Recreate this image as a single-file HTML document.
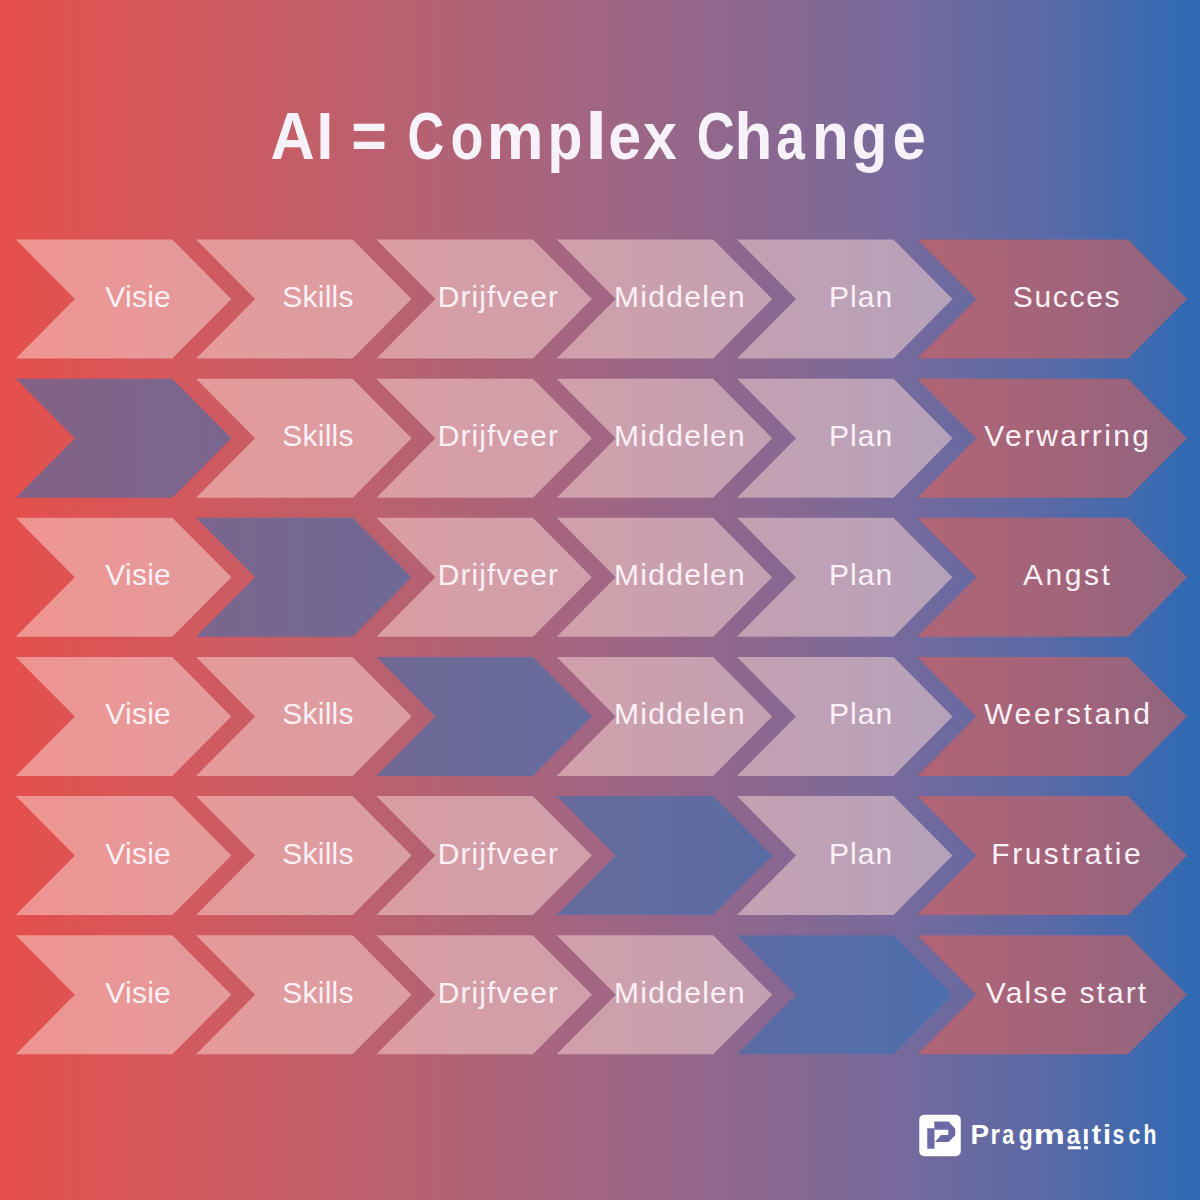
<!DOCTYPE html>
<html><head><meta charset="utf-8">
<style>
html,body{margin:0;padding:0;width:1200px;height:1200px;overflow:hidden;}
body{background:linear-gradient(90deg,#e54f4c 0%,#d5585c 13.3%,#c45e67 25%,#a16683 50%,#8d678f 62.5%,#766a9c 75%,#5a69a6 87.5%,#2e6ab4 100%);}
svg{position:absolute;left:0;top:0;}
.lab{font-family:"Liberation Sans",sans-serif;font-size:30px;fill:#fbf0f6;}
.title{font-family:"Liberation Sans",sans-serif;font-weight:bold;font-size:67px;fill:#f7f2f9;}
.brand{font-family:"Liberation Sans",sans-serif;font-weight:bold;font-size:27.5px;fill:#ffffff;}
</style></head>
<body>
<svg width="1200" height="1200" viewBox="0 0 1200 1200">
<g class="title">
<text x="270.47" y="158.6" textLength="44.2" lengthAdjust="spacingAndGlyphs">A</text>
<text x="316.5" y="158.6" textLength="16.76" lengthAdjust="spacingAndGlyphs">I</text>
<text x="351.17" y="158.6" textLength="35.57" lengthAdjust="spacingAndGlyphs">=</text>
<text x="407.43" y="158.6" textLength="36.69" lengthAdjust="spacingAndGlyphs">C</text>
<text x="450.39" y="158.6" textLength="32.98" lengthAdjust="spacingAndGlyphs">o</text>
<text x="486.78" y="158.6" textLength="56.83" lengthAdjust="spacingAndGlyphs">m</text>
<text x="547.59" y="158.6" textLength="34.92" lengthAdjust="spacingAndGlyphs">p</text>
<text x="585" y="158.6" textLength="22.35" lengthAdjust="spacingAndGlyphs">l</text>
<text x="608.23" y="158.6" textLength="32.97" lengthAdjust="spacingAndGlyphs">e</text>
<text x="643.09" y="158.6" textLength="33.85" lengthAdjust="spacingAndGlyphs">x</text>
<text x="696.85" y="158.6" textLength="37.92" lengthAdjust="spacingAndGlyphs">C</text>
<text x="734.38" y="158.6" textLength="37.87" lengthAdjust="spacingAndGlyphs">h</text>
<text x="776.27" y="158.6" textLength="28.57" lengthAdjust="spacingAndGlyphs">a</text>
<text x="812.01" y="158.6" textLength="36.72" lengthAdjust="spacingAndGlyphs">n</text>
<text x="851.79" y="158.6" textLength="35.64" lengthAdjust="spacingAndGlyphs">g</text>
<text x="892.41" y="158.6" textLength="33.43" lengthAdjust="spacingAndGlyphs">e</text>
</g>
<g>
<polygon points="15.8,239.5 172.3,239.5 231.3,299 172.3,358.5 15.8,358.5 74.8,299" fill="rgba(250,216,212,0.51)"/>
<polygon points="196.1,239.5 352.6,239.5 411.6,299 352.6,358.5 196.1,358.5 255.1,299" fill="rgba(250,216,212,0.51)"/>
<polygon points="376.4,239.5 532.9,239.5 591.9,299 532.9,358.5 376.4,358.5 435.4,299" fill="rgba(250,216,212,0.51)"/>
<polygon points="556.7,239.5 713.2,239.5 772.2,299 713.2,358.5 556.7,358.5 615.7,299" fill="rgba(250,216,212,0.51)"/>
<polygon points="737,239.5 893.5,239.5 952.5,299 893.5,358.5 737,358.5 796,299" fill="rgba(250,216,212,0.51)"/>
<polygon points="917.3,239.5 1128,239.5 1187,299 1128,358.5 917.3,358.5 976.3,299" fill="rgba(238,96,78,0.5)"/>
<polygon points="15.8,378.65 172.3,378.65 231.3,438.15 172.3,497.65 15.8,497.65 74.8,438.15" fill="rgba(50,113,181,0.54)"/>
<polygon points="196.1,378.65 352.6,378.65 411.6,438.15 352.6,497.65 196.1,497.65 255.1,438.15" fill="rgba(250,216,212,0.51)"/>
<polygon points="376.4,378.65 532.9,378.65 591.9,438.15 532.9,497.65 376.4,497.65 435.4,438.15" fill="rgba(250,216,212,0.51)"/>
<polygon points="556.7,378.65 713.2,378.65 772.2,438.15 713.2,497.65 556.7,497.65 615.7,438.15" fill="rgba(250,216,212,0.51)"/>
<polygon points="737,378.65 893.5,378.65 952.5,438.15 893.5,497.65 737,497.65 796,438.15" fill="rgba(250,216,212,0.51)"/>
<polygon points="917.3,378.65 1128,378.65 1187,438.15 1128,497.65 917.3,497.65 976.3,438.15" fill="rgba(238,96,78,0.5)"/>
<polygon points="15.8,517.8 172.3,517.8 231.3,577.3 172.3,636.8 15.8,636.8 74.8,577.3" fill="rgba(250,216,212,0.51)"/>
<polygon points="196.1,517.8 352.6,517.8 411.6,577.3 352.6,636.8 196.1,636.8 255.1,577.3" fill="rgba(50,113,181,0.54)"/>
<polygon points="376.4,517.8 532.9,517.8 591.9,577.3 532.9,636.8 376.4,636.8 435.4,577.3" fill="rgba(250,216,212,0.51)"/>
<polygon points="556.7,517.8 713.2,517.8 772.2,577.3 713.2,636.8 556.7,636.8 615.7,577.3" fill="rgba(250,216,212,0.51)"/>
<polygon points="737,517.8 893.5,517.8 952.5,577.3 893.5,636.8 737,636.8 796,577.3" fill="rgba(250,216,212,0.51)"/>
<polygon points="917.3,517.8 1128,517.8 1187,577.3 1128,636.8 917.3,636.8 976.3,577.3" fill="rgba(238,96,78,0.5)"/>
<polygon points="15.8,656.95 172.3,656.95 231.3,716.45 172.3,775.95 15.8,775.95 74.8,716.45" fill="rgba(250,216,212,0.51)"/>
<polygon points="196.1,656.95 352.6,656.95 411.6,716.45 352.6,775.95 196.1,775.95 255.1,716.45" fill="rgba(250,216,212,0.51)"/>
<polygon points="376.4,656.95 532.9,656.95 591.9,716.45 532.9,775.95 376.4,775.95 435.4,716.45" fill="rgba(50,113,181,0.54)"/>
<polygon points="556.7,656.95 713.2,656.95 772.2,716.45 713.2,775.95 556.7,775.95 615.7,716.45" fill="rgba(250,216,212,0.51)"/>
<polygon points="737,656.95 893.5,656.95 952.5,716.45 893.5,775.95 737,775.95 796,716.45" fill="rgba(250,216,212,0.51)"/>
<polygon points="917.3,656.95 1128,656.95 1187,716.45 1128,775.95 917.3,775.95 976.3,716.45" fill="rgba(238,96,78,0.5)"/>
<polygon points="15.8,796.1 172.3,796.1 231.3,855.6 172.3,915.1 15.8,915.1 74.8,855.6" fill="rgba(250,216,212,0.51)"/>
<polygon points="196.1,796.1 352.6,796.1 411.6,855.6 352.6,915.1 196.1,915.1 255.1,855.6" fill="rgba(250,216,212,0.51)"/>
<polygon points="376.4,796.1 532.9,796.1 591.9,855.6 532.9,915.1 376.4,915.1 435.4,855.6" fill="rgba(250,216,212,0.51)"/>
<polygon points="556.7,796.1 713.2,796.1 772.2,855.6 713.2,915.1 556.7,915.1 615.7,855.6" fill="rgba(50,113,181,0.54)"/>
<polygon points="737,796.1 893.5,796.1 952.5,855.6 893.5,915.1 737,915.1 796,855.6" fill="rgba(250,216,212,0.51)"/>
<polygon points="917.3,796.1 1128,796.1 1187,855.6 1128,915.1 917.3,915.1 976.3,855.6" fill="rgba(238,96,78,0.5)"/>
<polygon points="15.8,935.25 172.3,935.25 231.3,994.75 172.3,1054.25 15.8,1054.25 74.8,994.75" fill="rgba(250,216,212,0.51)"/>
<polygon points="196.1,935.25 352.6,935.25 411.6,994.75 352.6,1054.25 196.1,1054.25 255.1,994.75" fill="rgba(250,216,212,0.51)"/>
<polygon points="376.4,935.25 532.9,935.25 591.9,994.75 532.9,1054.25 376.4,1054.25 435.4,994.75" fill="rgba(250,216,212,0.51)"/>
<polygon points="556.7,935.25 713.2,935.25 772.2,994.75 713.2,1054.25 556.7,1054.25 615.7,994.75" fill="rgba(250,216,212,0.51)"/>
<polygon points="737,935.25 893.5,935.25 952.5,994.75 893.5,1054.25 737,1054.25 796,994.75" fill="rgba(50,113,181,0.54)"/>
<polygon points="917.3,935.25 1128,935.25 1187,994.75 1128,1054.25 917.3,1054.25 976.3,994.75" fill="rgba(238,96,78,0.5)"/>
</g>
<g class="lab">
<text x="105.2" y="306.9" textLength="65.58" lengthAdjust="spacing">Visie</text>
<text x="282.2" y="306.9" textLength="71.32" lengthAdjust="spacing">Skills</text>
<text x="437.8" y="306.9" textLength="120.09" lengthAdjust="spacing">Drijfveer</text>
<text x="614" y="306.9" textLength="130.75" lengthAdjust="spacing">Middelen</text>
<text x="829" y="306.9" textLength="63.25" lengthAdjust="spacing">Plan</text>
<text x="1012.7" y="306.9" textLength="106.89" lengthAdjust="spacing">Succes</text>
<text x="282.2" y="446.05" textLength="71.32" lengthAdjust="spacing">Skills</text>
<text x="437.8" y="446.05" textLength="120.09" lengthAdjust="spacing">Drijfveer</text>
<text x="614" y="446.05" textLength="130.75" lengthAdjust="spacing">Middelen</text>
<text x="829" y="446.05" textLength="63.25" lengthAdjust="spacing">Plan</text>
<text x="984.2" y="446.05" textLength="164.71" lengthAdjust="spacing">Verwarring</text>
<text x="105.2" y="585.2" textLength="65.58" lengthAdjust="spacing">Visie</text>
<text x="437.8" y="585.2" textLength="120.09" lengthAdjust="spacing">Drijfveer</text>
<text x="614" y="585.2" textLength="130.75" lengthAdjust="spacing">Middelen</text>
<text x="829" y="585.2" textLength="63.25" lengthAdjust="spacing">Plan</text>
<text x="1023" y="585.2" textLength="86.72" lengthAdjust="spacing">Angst</text>
<text x="105.2" y="724.35" textLength="65.58" lengthAdjust="spacing">Visie</text>
<text x="282.2" y="724.35" textLength="71.32" lengthAdjust="spacing">Skills</text>
<text x="614" y="724.35" textLength="130.75" lengthAdjust="spacing">Middelen</text>
<text x="829" y="724.35" textLength="63.25" lengthAdjust="spacing">Plan</text>
<text x="984.2" y="724.35" textLength="165.63" lengthAdjust="spacing">Weerstand</text>
<text x="105.2" y="863.5" textLength="65.58" lengthAdjust="spacing">Visie</text>
<text x="282.2" y="863.5" textLength="71.32" lengthAdjust="spacing">Skills</text>
<text x="437.8" y="863.5" textLength="120.09" lengthAdjust="spacing">Drijfveer</text>
<text x="829" y="863.5" textLength="63.25" lengthAdjust="spacing">Plan</text>
<text x="991.3" y="863.5" textLength="149.4" lengthAdjust="spacing">Frustratie</text>
<text x="105.2" y="1002.65" textLength="65.58" lengthAdjust="spacing">Visie</text>
<text x="282.2" y="1002.65" textLength="71.32" lengthAdjust="spacing">Skills</text>
<text x="437.8" y="1002.65" textLength="120.09" lengthAdjust="spacing">Drijfveer</text>
<text x="614" y="1002.65" textLength="130.75" lengthAdjust="spacing">Middelen</text>
<text x="985.8" y="1002.65" textLength="160.4" lengthAdjust="spacing">Valse start</text>
</g>
<g transform="translate(919.25,1114.75)">
<rect x="0" y="0" width="41.5" height="41.5" rx="5" fill="#ffffff"/>
<path d="M8 13.5H15.25V34H8Z" fill="#6a68a6"/>
<path d="M15 6.75H29.25L36 14V20.5L29.25 27.25H15.75L21.75 20.25H29V15H15.25Z" fill="#6a68a6"/>
</g>
<g class="brand">
<text x="970.58" y="1144.25" textLength="18.57" lengthAdjust="spacingAndGlyphs">P</text>
<text x="990.44" y="1144.25" textLength="9.39" lengthAdjust="spacingAndGlyphs">r</text>
<text x="1002.22" y="1144.25" textLength="11.93" lengthAdjust="spacingAndGlyphs">a</text>
<text x="1018.87" y="1144.25" textLength="13.93" lengthAdjust="spacingAndGlyphs">g</text>
<text x="1033.76" y="1144.25" textLength="31.09" lengthAdjust="spacingAndGlyphs">m</text>
<text x="1066.64" y="1144.25" textLength="13.16" lengthAdjust="spacingAndGlyphs">a</text>
<text x="1082.35" y="1144.25" textLength="7.07" lengthAdjust="spacingAndGlyphs">ı</text>
<text x="1091.7" y="1144.25" textLength="9.27" lengthAdjust="spacingAndGlyphs">t</text>
<text x="1102.9" y="1144.25" textLength="8.02" lengthAdjust="spacingAndGlyphs">i</text>
<text x="1112.53" y="1144.25" textLength="11.77" lengthAdjust="spacingAndGlyphs">s</text>
<text x="1128.43" y="1144.25" textLength="11.8" lengthAdjust="spacingAndGlyphs">c</text>
<text x="1143.46" y="1144.25" textLength="12.93" lengthAdjust="spacingAndGlyphs">h</text>
</g>
<rect x="1067.8" y="1146.2" width="13" height="3.1" fill="#ffffff"/>
<rect x="1084.2" y="1146.2" width="3.7" height="3.1" fill="#ffffff"/>
</svg>
</body></html>
